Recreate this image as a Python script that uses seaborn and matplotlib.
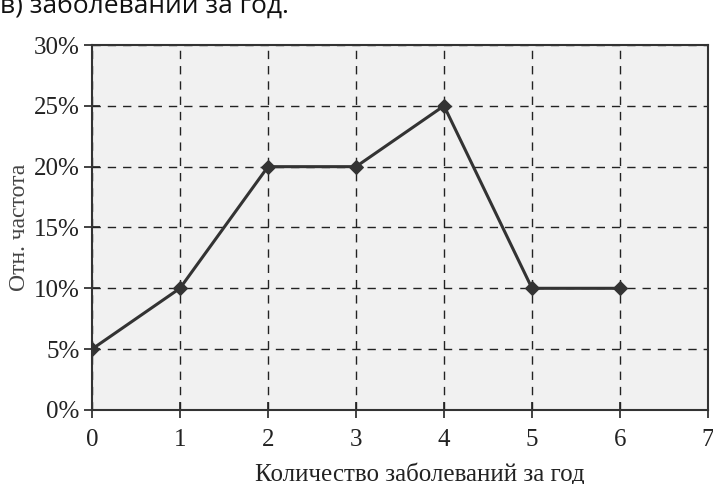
import matplotlib
matplotlib.use("Agg")
import matplotlib.pyplot as plt
import seaborn as sns
import pandas as pd

counts = [0, 1, 2, 3, 4, 5, 6]
rel_freq = [5, 10, 20, 20, 25, 10, 10]
y_ticks = [0, 5, 10, 15, 20, 25, 30]
x_ticks = [0, 1, 2, 3, 4, 5, 6, 7]

sns.set_theme(style="white")
plt.rcParams['font.family'] = ['Liberation Serif', 'DejaVu Serif']

df = pd.DataFrame({"x": counts, "y": rel_freq})

fig = plt.figure(figsize=(7.13, 4.84), dpi=100)
fig.patch.set_facecolor("white")
ax = fig.add_axes([0.129, 0.153, 0.864, 0.754])
ax.set_facecolor("#f1f1f1")

sns.lineplot(data=df, x="x", y="y", ax=ax, color="#333333", linewidth=2.2,
             marker="D", markersize=7, markeredgecolor="#333333", zorder=3)

ax.set_xlim(0, 7)
ax.set_ylim(0, 30)
ax.set_xticks(x_ticks)
ax.set_yticks(y_ticks)
ax.set_xticklabels([str(v) for v in x_ticks], fontsize=18)
ax.set_yticklabels([f"{v}%" for v in y_ticks], fontsize=18)
ax.grid(True, linestyle=(0, (6, 5)), color="#222222", linewidth=1.0)
ax.tick_params(axis="both", direction="inout", length=12, width=1.2, colors="#222222",
               labelcolor="#222222", bottom=True, left=True)
ax.tick_params(axis="x", pad=8)
ax.tick_params(axis="y", pad=3)
for s in ax.spines.values():
    s.set_color("#333333")
    s.set_linewidth(1.5)

ax.set_xlabel("Количество заболеваний за год", fontsize=18, color="#222222")
ax.xaxis.set_label_coords(0.532, -0.145)
ax.set_ylabel("Отн. частота", fontsize=17, color="#444444")
ax.yaxis.set_label_coords(-0.1, 0.5)

fig.text(0.0, 1 - 14 / 484, "в) заболеваний за год.", fontsize=19, family=["Open Sans", "DejaVu Sans"],
         color="#111111", va="baseline", ha="left")

fig.savefig("out.png", dpi=100)
